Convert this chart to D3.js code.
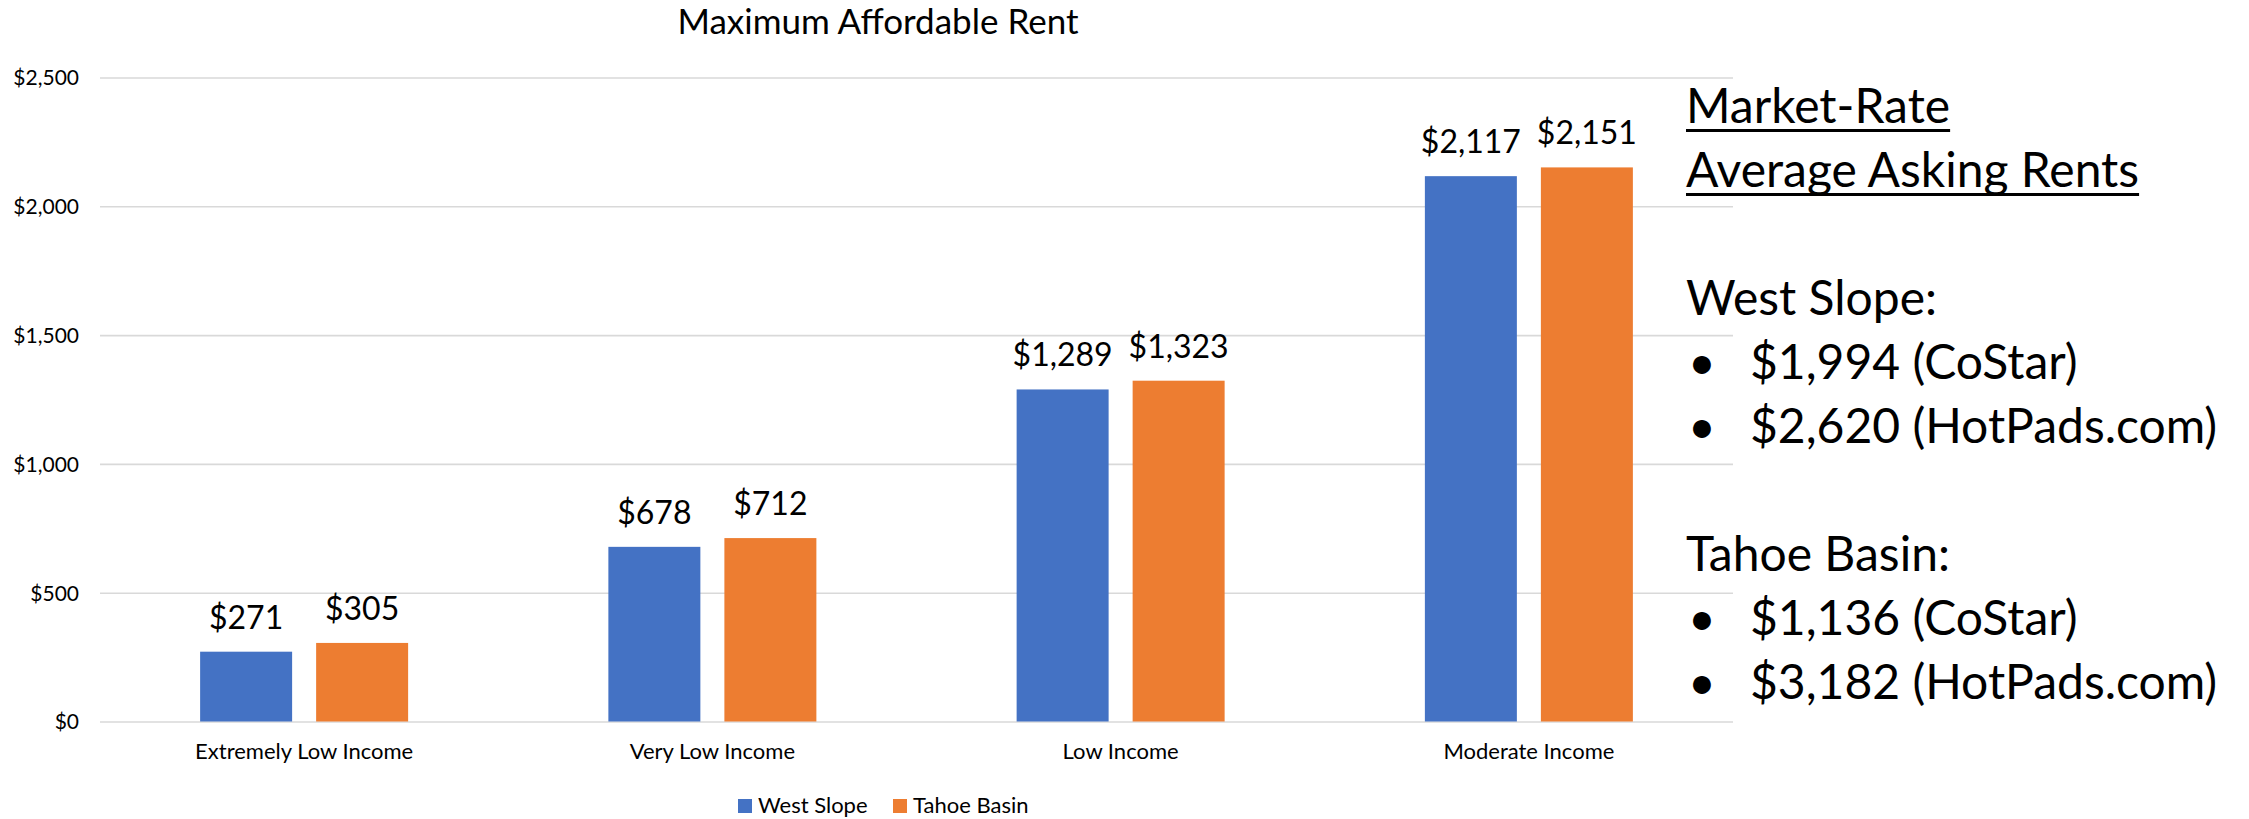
<!DOCTYPE html>
<html>
<head>
<meta charset="utf-8">
<script src="https://cdn.jsdelivr.net/npm/d3@7"></script>
<style>
  body { margin: 0; background: #fff; }
  svg text { font-family: Lato, "Open Sans", sans-serif; fill: #000; }
  .grid line { stroke: #d9d9d9; stroke-width: 1.6; }
  .yaxis text { font-size: 21px; }
  .xaxis text { font-size: 22px; }
  .vals text { font-size: 32px; }
  .legend text { font-size: 22px; }
  .notes text { font-size: 48px; }
</style>
</head>
<body>
<div id="chart"></div>
<script>
// chart data
var categories = ["Extremely Low Income", "Very Low Income", "Low Income", "Moderate Income"];
var seriesNames = ["West Slope", "Tahoe Basin"];
var westSlope = [271, 678, 1289, 2117];
var tahoeBasin = [305, 712, 1323, 2151];
var yTicks = [0, 500, 1000, 1500, 2000, 2500];
var colors = ["#4472C4", "#ED7D31"];

// text on the right
var notesHeading = ["Market-Rate", "Average Asking Rents"];
var westNotes = ["$1,994 (CoStar)", "$2,620 (HotPads.com)"];
var tahoeNotes = ["$1,136 (CoStar)", "$3,182 (HotPads.com)"];

var width = 2249, height = 819;
var plotL = 100, plotR = 1733, plotT = 77.5, plotB = 721.5;

var svg = d3.select("#chart").append("svg")
  .attr("width", width)
  .attr("height", height);

var y = d3.scaleLinear().domain([0, 2500]).range([plotB, plotT]);
var x0 = d3.scaleBand().domain(categories).range([plotL, plotR]);
var bw = x0.bandwidth();
var x1 = d3.scaleBand().domain(seriesNames)
  .range([bw / 2 - 104, bw / 2 + 104])
  .paddingInner(0.207);

// gridlines + y labels
var yAxis = svg.append("g")
  .attr("class", "grid yaxis")
  .attr("transform", "translate(" + plotL + ",0)")
  .call(d3.axisLeft(y).tickValues(yTicks)
    .tickSizeInner(-(plotR - plotL)).tickSizeOuter(0)
    .tickPadding(21).tickFormat(d3.format("$,")));
yAxis.select(".domain").remove();
yAxis.selectAll("text").attr("dy", "0.35em");

// x labels
var xAxis = svg.append("g")
  .attr("class", "xaxis")
  .attr("transform", "translate(0," + plotB + ")")
  .call(d3.axisBottom(x0).tickSize(0));
xAxis.select(".domain").remove();
xAxis.selectAll("text").attr("y", 37).attr("dy", 0);

var rows = categories.map(function(c, i) {
  return { cat: c, vals: [westSlope[i], tahoeBasin[i]] };
});

var groups = svg.append("g").selectAll("g")
  .data(rows)
  .enter().append("g")
  .attr("transform", function(d) { return "translate(" + x0(d.cat) + ",0)"; });

groups.selectAll("rect")
  .data(function(d) { return d.vals.map(function(v, j) { return { s: seriesNames[j], v: v, j: j }; }); })
  .enter().append("rect")
  .attr("x", function(d) { return x1(d.s); })
  .attr("y", function(d) { return y(d.v); })
  .attr("width", x1.bandwidth())
  .attr("height", function(d) { return y(0) - y(d.v); })
  .attr("fill", function(d) { return colors[d.j]; });

groups.append("g").attr("class", "vals").selectAll("text")
  .data(function(d) { return d.vals.map(function(v, j) { return { s: seriesNames[j], v: v }; }); })
  .enter().append("text")
  .attr("x", function(d) { return x1(d.s) + x1.bandwidth() / 2; })
  .attr("y", function(d) { return y(d.v) - 23; })
  .attr("text-anchor", "middle")
  .text(function(d) { return d3.format("$,")(d.v); });

// title
svg.append("text")
  .attr("x", 878)
  .attr("y", 34)
  .attr("text-anchor", "middle")
  .style("font-size", "35px")
  .text("Maximum Affordable Rent");

// legend
var legend = svg.append("g").attr("class", "legend");
var legX = [738, 893];
seriesNames.forEach(function(s, j) {
  legend.append("rect")
    .attr("x", legX[j]).attr("y", 799)
    .attr("width", 14).attr("height", 14)
    .attr("fill", colors[j]);
  legend.append("text")
    .attr("x", legX[j] + 20).attr("y", 813)
    .text(s);
});

// notes panel
var notes = svg.append("g").attr("class", "notes");
var nx = 1686, lh = 64, base = 123;

notesHeading.forEach(function(t, i) {
  var txt = notes.append("text")
    .attr("x", nx).attr("y", base + i * lh)
    .text(t);
  var w = txt.node().getComputedTextLength();
  notes.append("rect")
    .attr("x", nx).attr("y", base + i * lh + 6)
    .attr("width", w).attr("height", 3)
    .attr("fill", "#000");
});

function block(label, items, row) {
  notes.append("text")
    .attr("x", nx).attr("y", base + row * lh)
    .text(label);
  items.forEach(function(t, k) {
    var yy = base + (row + 1 + k) * lh;
    notes.append("text").attr("x", nx + 2).attr("y", yy).text("\u2022");
    notes.append("text").attr("x", 1750).attr("y", yy).text(t);
  });
}
block("West Slope:", westNotes, 3);
block("Tahoe Basin:", tahoeNotes, 7);
</script>
</body>
</html>
